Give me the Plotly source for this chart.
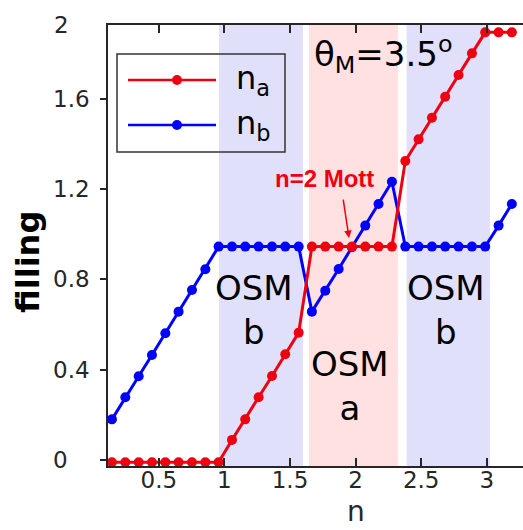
import plotly.graph_objects as go

# filling n along the doping sweep (one sample per step)
n_vals = [0.143, 0.245, 0.347, 0.448, 0.550, 0.651, 0.753, 0.855, 0.956, 1.058,
          1.159, 1.261, 1.363, 1.464, 1.566, 1.667, 1.769, 1.871, 1.972, 2.074,
          2.175, 2.277, 2.379, 2.480, 2.582, 2.683, 2.785, 2.887, 2.988, 3.090,
          3.191]

n_a = [-0.01, -0.01, -0.01, -0.01, -0.01, -0.01, -0.01, -0.01, -0.01, 0.089,
       0.180, 0.278, 0.372, 0.468, 0.564, 0.945, 0.945, 0.945, 0.945, 0.945,
       0.945, 0.945, 1.324, 1.420, 1.516, 1.609, 1.705, 1.801, 1.894, 1.894,
       1.894]

n_b = [0.180, 0.278, 0.371, 0.465, 0.561, 0.657, 0.753, 0.845, 0.945, 0.945,
       0.945, 0.945, 0.945, 0.945, 0.945, 0.657, 0.750, 0.846, 0.942, 1.038,
       1.134, 1.232, 0.945, 0.945, 0.945, 0.945, 0.945, 0.945, 0.945, 1.038,
       1.134]

# orbital-selective Mott windows (n ranges)
osm_b1 = (0.959, 1.599)
osm_a = (1.645, 2.323)
osm_b2 = (2.389, 3.024)

x_ticks = [0.5, 1, 1.5, 2, 2.5, 3]
x_ticktext = ["0.5", "1", "1.5", "2", "2.5", "3"]
y_ticks = [0, 0.4, 0.8, 1.2, 1.6]
y_ticktext = ["0\u00a0\u00a0\u00a0", "0.4", "0.8", "1.2", "1.6"]

W, H = 523, 530
ML, MR, MT, MB = 108, 0, 25, 64
PW, PH = W - ML - MR, H - MT - MB


def px(x):
    return (x - ML) / PW


def py(y):
    return (H - MB - y) / PH


RED = "#ee0011"
BLUE = "#0000ff"
INK = "#262626"
FONT = "DejaVu Sans"

fig = go.Figure()
fig.add_trace(go.Scatter(x=n_vals, y=n_b, mode="lines+markers", name="n_b",
                         line=dict(color=BLUE, width=3),
                         marker=dict(color=BLUE, size=10),
                         cliponaxis=False, showlegend=False))
fig.add_trace(go.Scatter(x=n_vals, y=n_a, mode="lines+markers", name="n_a",
                         line=dict(color=RED, width=3),
                         marker=dict(color=RED, size=10),
                         cliponaxis=False, showlegend=False))

shapes = []
for (x0, x1), col in [(osm_b1, "#e0e0fb"), (osm_a, "#ffe1e1"), (osm_b2, "#e0e0fb")]:
    shapes.append(dict(type="rect", xref="x", yref="paper", x0=x0, x1=x1,
                       y0=0, y1=1, fillcolor=col, line_width=0, layer="below"))

# legend box
shapes.append(dict(type="rect", xref="paper", yref="paper",
                   x0=px(117), x1=px(285), y0=py(152), y1=py(54),
                   line=dict(color="#333333", width=1.5)))
for yy, col in [(80, RED), (125, BLUE)]:
    shapes.append(dict(type="line", xref="paper", yref="paper",
                       x0=px(128), x1=px(216), y0=py(yy), y1=py(yy),
                       line=dict(color=col, width=2.5)))
    shapes.append(dict(type="circle", xref="paper", yref="paper",
                       x0=px(172), x1=px(182), y0=py(yy + 5), y1=py(yy - 5),
                       fillcolor=col, line=dict(color=col, width=0)))

annotations = [
    dict(text="n<sub>a</sub>", x=px(234), y=py(80), xanchor="left", yanchor="middle",
         font=dict(size=32, color="#000000", family=FONT)),
    dict(text="n<sub>b</sub>", x=px(234), y=py(125), xanchor="left", yanchor="middle",
         font=dict(size=32, color="#000000", family=FONT)),
    dict(text="θ<sub>M</sub>=3.5<sup>o</sup>", x=px(312), y=py(54), xanchor="left",
         yanchor="middle", font=dict(size=34, color="#000000", family=FONT)),
    dict(text="OSM<br>b", x=px(254), y=py(310), xanchor="center", yanchor="middle",
         font=dict(size=34, color="#000000", family=FONT)),
    dict(text="OSM<br>a", x=px(350), y=py(386), xanchor="center", yanchor="middle",
         font=dict(size=34, color="#000000", family=FONT)),
    dict(text="OSM<br>b", x=px(446), y=py(310), xanchor="center", yanchor="middle",
         font=dict(size=34, color="#000000", family=FONT)),
    dict(text="<b>n=2 Mott</b>", x=px(324), y=py(178), xanchor="center", yanchor="middle",
         font=dict(size=24, color=RED, family="Liberation Sans")),
    dict(text="", x=1.95, y=0.983, xref="x", yref="y", ax=-6, ay=-40,
         showarrow=True, arrowhead=2, arrowsize=1, arrowwidth=1.5, arrowcolor=RED),
    dict(text="2", x=px(52), y=py(25), xanchor="left", yanchor="middle",
         font=dict(size=23, color=INK, family=FONT)),
    dict(text="n", x=px(356), y=py(530), xanchor="center", yanchor="bottom",
         font=dict(size=28, color=INK, family=FONT)),
    dict(text="<b>filling</b>", x=px(28), y=py(262), xanchor="center", yanchor="middle",
         textangle=-90, font=dict(size=32, color="#000000", family=FONT)),
]
for a in annotations:
    a.setdefault("xref", "paper")
    a.setdefault("yref", "paper")
    a.setdefault("showarrow", False)

fig.update_layout(
    width=W, height=H,
    margin=dict(l=ML, r=MR, t=MT, b=MB, pad=0),
    paper_bgcolor="white", plot_bgcolor="white",
    showlegend=False,
    shapes=shapes,
    annotations=annotations,
    xaxis=dict(range=[0.113, 3.276], tickvals=x_ticks, ticktext=x_ticktext,
               ticks="inside", ticklen=8, tickwidth=1.5, tickcolor=INK,
               showline=True, linecolor=INK, linewidth=1.5, mirror="ticks",
               showgrid=False, zeroline=False, ticklabelstandoff=-7,
               tickfont=dict(size=23, color=INK, family=FONT)),
    yaxis=dict(range=[-0.0266, 1.9265], tickvals=y_ticks, ticktext=y_ticktext,
               ticks="outside", ticklen=6, tickwidth=1.5, tickcolor=INK,
               showline=True, linecolor=INK, linewidth=1.5, mirror=False,
               showgrid=False, zeroline=False, ticklabelstandoff=6,
               tickfont=dict(size=23, color=INK, family=FONT)),
    yaxis2=dict(range=[-0.0266, 1.9265], overlaying="y", side="right",
                tickvals=y_ticks, ticks="inside", ticklen=4, tickwidth=1.5,
                tickcolor=INK, showticklabels=False, showline=False,
                showgrid=False, zeroline=False),
)

fig.write_html("out.html")
